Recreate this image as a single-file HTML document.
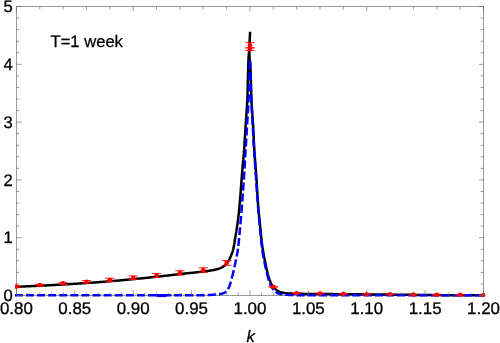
<!DOCTYPE html>
<html><head><meta charset="utf-8"><title>plot</title>
<style>
html,body{margin:0;padding:0;background:#fff;}
body{width:500px;height:343px;overflow:hidden;font-family:"Liberation Sans",sans-serif;}
svg{display:block;will-change:transform;}
text{font-family:"Liberation Sans",sans-serif;font-size:16.9px;fill:#000;stroke:#000;stroke-width:0.3px;stroke-linejoin:round;text-rendering:geometricPrecision;}
</style></head>
<body>
<svg width="500" height="343" viewBox="0 0 500 343">
<rect x="0" y="0" width="500" height="343" fill="#ffffff"/>
<defs><clipPath id="c"><rect x="15" y="5" width="470.1" height="292.2"/></clipPath></defs>
<g stroke="#666666" stroke-width="0.65" fill="none">
<rect x="16.40" y="6.50" width="467.10" height="289.00"/>
</g>
<g clip-path="url(#c)" fill="none" stroke-linejoin="round">
<path d="M13.00 287.00L13.60 286.97L14.20 286.94L14.80 286.91L15.40 286.88L16.00 286.86L16.60 286.83L17.20 286.80L17.79 286.77L18.39 286.74L18.99 286.71L19.59 286.68L20.19 286.65L20.79 286.63L21.39 286.60L21.99 286.57L22.59 286.54L23.19 286.51L23.79 286.48L24.39 286.46L24.99 286.43L25.59 286.40L26.19 286.37L26.78 286.34L27.38 286.32L27.98 286.29L28.58 286.26L29.18 286.23L29.78 286.20L30.38 286.17L30.98 286.15L31.58 286.12L32.18 286.09L32.78 286.06L33.38 286.03L33.98 286.00L34.58 285.98L35.18 285.95L35.77 285.92L36.37 285.89L36.97 285.86L37.57 285.83L38.17 285.80L38.77 285.77L39.37 285.74L39.97 285.72L40.57 285.69L41.17 285.66L41.77 285.63L42.37 285.60L42.97 285.57L43.57 285.54L44.16 285.51L44.76 285.47L45.36 285.44L45.96 285.41L46.56 285.38L47.16 285.35L47.76 285.32L48.36 285.29L48.96 285.26L49.56 285.22L50.16 285.19L50.76 285.16L51.35 285.13L51.95 285.09L52.55 285.06L53.15 285.03L53.75 285.00L54.35 284.96L54.95 284.93L55.55 284.90L56.15 284.86L56.75 284.83L57.35 284.80L57.94 284.76L58.54 284.73L59.14 284.70L59.74 284.66L60.34 284.63L60.94 284.60L61.54 284.56L62.14 284.53L62.74 284.49L63.34 284.46L63.94 284.42L64.53 284.39L65.13 284.36L65.73 284.32L66.33 284.29L66.93 284.25L67.53 284.22L68.13 284.18L68.73 284.15L69.33 284.11L69.93 284.07L70.52 284.04L71.12 284.00L71.72 283.97L72.32 283.93L72.92 283.89L73.52 283.86L74.12 283.82L74.72 283.78L75.32 283.75L75.92 283.71L76.51 283.67L77.11 283.63L77.71 283.60L78.31 283.56L78.91 283.52L79.51 283.48L80.11 283.44L80.71 283.41L81.30 283.37L81.90 283.33L82.50 283.29L83.10 283.25L83.70 283.21L84.30 283.17L84.90 283.13L85.50 283.09L86.09 283.05L86.69 283.01L87.29 282.97L87.89 282.93L88.49 282.89L89.09 282.85L89.69 282.81L90.28 282.76L90.88 282.72L91.48 282.68L92.08 282.64L92.68 282.59L93.28 282.55L93.87 282.51L94.47 282.47L95.07 282.42L95.67 282.38L96.27 282.33L96.87 282.29L97.46 282.25L98.06 282.20L98.66 282.16L99.26 282.11L99.86 282.06L100.45 282.02L101.05 281.97L101.65 281.93L102.25 281.88L102.85 281.83L103.45 281.78L104.04 281.74L104.64 281.69L105.24 281.64L105.84 281.59L106.44 281.54L107.03 281.49L107.63 281.45L108.23 281.40L108.83 281.35L109.43 281.30L110.02 281.25L110.62 281.20L111.22 281.15L111.82 281.10L112.42 281.04L113.01 280.99L113.61 280.94L114.21 280.89L114.81 280.84L115.40 280.79L116.00 280.73L116.60 280.68L117.20 280.63L117.80 280.58L118.39 280.52L118.99 280.47L119.59 280.42L120.19 280.36L120.78 280.31L121.38 280.26L121.98 280.20L122.58 280.15L123.17 280.09L123.77 280.04L124.37 279.98L124.97 279.93L125.56 279.87L126.16 279.82L126.76 279.76L127.36 279.71L127.96 279.65L128.55 279.59L129.15 279.54L129.75 279.48L130.34 279.43L130.94 279.37L131.54 279.31L132.14 279.26L132.73 279.20L133.33 279.14L133.93 279.08L134.53 279.03L135.12 278.97L135.72 278.91L136.32 278.85L136.92 278.80L137.51 278.74L138.11 278.68L138.71 278.62L139.30 278.56L139.90 278.50L140.50 278.45L141.10 278.39L141.69 278.33L142.29 278.27L142.89 278.21L143.48 278.15L144.08 278.09L144.68 278.03L145.27 277.97L145.87 277.91L146.47 277.85L147.06 277.79L147.66 277.73L148.26 277.67L148.85 277.61L149.45 277.55L150.05 277.48L150.64 277.42L151.24 277.36L151.84 277.30L152.43 277.23L153.03 277.17L153.63 277.10L154.22 277.04L154.82 276.97L155.42 276.91L156.01 276.84L156.61 276.78L157.21 276.71L157.80 276.65L158.40 276.58L159.00 276.51L159.59 276.45L160.19 276.38L160.78 276.31L161.38 276.25L161.98 276.18L162.57 276.11L163.17 276.04L163.77 275.97L164.36 275.91L164.96 275.84L165.55 275.77L166.15 275.70L166.75 275.63L167.34 275.56L167.94 275.49L168.53 275.42L169.13 275.35L169.73 275.28L170.32 275.21L170.92 275.14L171.51 275.07L172.11 275.00L172.71 274.93L173.30 274.86L173.90 274.79L174.49 274.72L175.09 274.65L175.69 274.58L176.28 274.51L176.88 274.44L177.47 274.37L178.07 274.30L178.67 274.23L179.26 274.16L179.86 274.09L180.45 274.02L181.05 273.95L181.64 273.88L182.24 273.81L182.84 273.75L183.43 273.68L184.03 273.61L184.63 273.55L185.23 273.48L185.83 273.42L186.42 273.36L187.02 273.29L187.62 273.23L188.22 273.17L188.82 273.11L189.42 273.05L190.02 272.99L190.62 272.93L191.22 272.87L191.82 272.81L192.42 272.75L193.02 272.69L193.62 272.63L194.22 272.57L194.82 272.51L195.42 272.44L196.02 272.38L196.62 272.32L197.21 272.26L197.81 272.19L198.41 272.13L199.01 272.06L199.61 272.00L200.21 271.93L200.80 271.86L201.40 271.79L202.00 271.72L202.59 271.65L203.19 271.57L203.78 271.50L204.38 271.42L204.97 271.34L205.57 271.26L206.16 271.18L206.75 271.10L207.34 271.02L207.93 270.93L208.53 270.84L209.12 270.75L209.70 270.66L210.29 270.56L210.88 270.46L211.47 270.36L212.05 270.26L212.64 270.15L213.22 270.05L213.81 269.94L214.39 269.82L214.98 269.70L215.57 269.57L216.16 269.42L216.75 269.27L217.34 269.11L217.93 268.94L218.51 268.76L219.08 268.57L219.65 268.37L220.20 268.16L220.75 267.94L221.28 267.71L221.81 267.46L222.33 267.18L222.86 266.88L223.38 266.55L223.88 266.19L224.38 265.83L224.86 265.44L225.33 265.04L225.77 264.64L226.19 264.23L226.58 263.81L226.95 263.36L227.30 262.88L227.65 262.39L227.97 261.87L228.29 261.35L228.59 260.81L228.89 260.28L229.17 259.74L229.45 259.22L229.71 258.68L229.97 258.14L230.21 257.59L230.45 257.04L230.68 256.48L230.91 255.92L231.13 255.36L231.35 254.80L231.56 254.24L231.77 253.68L231.99 253.12L232.19 252.55L232.40 251.99L232.59 251.42L232.77 250.84L232.93 250.27L233.08 249.69L233.21 249.11L233.35 248.53L233.47 247.95L233.60 247.36L233.71 246.77L233.83 246.19L233.94 245.60L234.04 245.00L234.15 244.41L234.25 243.82L234.35 243.23L234.45 242.63L234.54 242.04L234.64 241.44L234.73 240.85L234.83 240.25L234.92 239.66L235.02 239.07L235.12 238.47L235.22 237.88L235.32 237.29L235.42 236.70L235.52 236.11L235.62 235.52L235.72 234.92L235.82 234.33L235.92 233.74L236.01 233.15L236.11 232.56L236.21 231.96L236.30 231.37L236.40 230.78L236.49 230.19L236.58 229.59L236.68 229.00L236.77 228.41L236.86 227.81L236.95 227.22L237.04 226.63L237.12 226.03L237.21 225.44L237.29 224.85L237.38 224.25L237.46 223.66L237.54 223.06L237.63 222.47L237.71 221.88L237.79 221.28L237.87 220.69L237.95 220.09L238.03 219.50L238.11 218.90L238.18 218.31L238.26 217.71L238.33 217.12L238.41 216.52L238.48 215.92L238.55 215.33L238.62 214.73L238.69 214.14L238.75 213.54L238.82 212.94L238.88 212.35L238.94 211.75L239.00 211.15L239.06 210.56L239.12 209.96L239.18 209.36L239.23 208.77L239.29 208.17L239.35 207.57L239.40 206.97L239.45 206.38L239.51 205.78L239.56 205.18L239.61 204.58L239.66 203.98L239.71 203.39L239.76 202.79L239.82 202.19L239.87 201.59L239.92 200.99L239.97 200.40L240.02 199.80L240.07 199.20L240.12 198.60L240.16 198.00L240.21 197.41L240.26 196.81L240.31 196.21L240.36 195.61L240.40 195.01L240.45 194.42L240.49 193.82L240.54 193.22L240.59 192.62L240.63 192.02L240.68 191.42L240.72 190.83L240.77 190.23L240.81 189.63L240.85 189.03L240.90 188.43L240.94 187.83L240.99 187.24L241.03 186.64L241.08 186.04L241.12 185.44L241.17 184.84L241.21 184.24L241.26 183.65L241.30 183.05L241.35 182.45L241.39 181.85L241.44 181.25L241.49 180.65L241.53 180.06L241.58 179.46L241.63 178.86L241.67 178.26L241.72 177.66L241.77 177.07L241.82 176.47L241.87 175.87L241.91 175.27L241.96 174.67L242.01 174.08L242.06 173.48L242.11 172.88L242.16 172.28L242.21 171.68L242.26 171.09L242.31 170.49L242.36 169.89L242.40 169.29L242.45 168.69L242.50 168.10L242.55 167.50L242.60 166.90L242.66 166.30L242.71 165.70L242.76 165.11L242.81 164.51L242.86 163.91L242.91 163.31L242.97 162.72L243.02 162.12L243.07 161.52L243.13 160.92L243.19 160.33L243.24 159.73L243.30 159.13L243.35 158.53L243.41 157.94L243.47 157.34L243.52 156.74L243.58 156.14L243.63 155.55L243.69 154.95L243.74 154.35L243.79 153.75L243.85 153.16L243.90 152.56L243.95 151.96L243.99 151.36L244.04 150.76L244.09 150.17L244.13 149.57L244.18 148.97L244.22 148.37L244.26 147.77L244.30 147.17L244.34 146.58L244.38 145.98L244.42 145.38L244.46 144.78L244.50 144.18L244.53 143.58L244.57 142.98L244.61 142.38L244.64 141.78L244.68 141.19L244.71 140.59L244.75 139.99L244.78 139.39L244.82 138.79L244.86 138.19L244.89 137.59L244.93 136.99L244.96 136.39L245.00 135.79L245.03 135.20L245.07 134.60L245.10 134.00L245.14 133.40L245.17 132.80L245.21 132.20L245.25 131.60L245.28 131.00L245.32 130.40L245.36 129.81L245.40 129.21L245.44 128.61L245.48 128.01L245.52 127.41L245.56 126.81L245.60 126.21L245.64 125.61L245.68 125.02L245.72 124.42L245.77 123.82L245.81 123.22L245.85 122.62L245.89 122.02L245.93 121.42L245.98 120.83L246.02 120.23L246.06 119.63L246.10 119.03L246.14 118.43L246.18 117.83L246.22 117.23L246.27 116.64L246.31 116.04L246.35 115.44L246.38 114.84L246.42 114.24L246.46 113.64L246.50 113.04L246.54 112.45L246.58 111.85L246.63 111.25L246.67 110.65L246.71 110.05L246.75 109.45L246.79 108.85L246.83 108.25L246.87 107.66L246.91 107.06L246.95 106.46L246.99 105.86L247.03 105.26L247.06 104.66L247.10 104.06L247.13 103.46L247.16 102.86L247.20 102.27L247.23 101.67L247.25 101.07L247.28 100.47L247.31 99.87L247.33 99.27L247.35 98.67L247.37 98.07L247.40 97.47L247.42 96.87L247.44 96.27L247.46 95.67L247.48 95.07L247.49 94.47L247.51 93.87L247.53 93.27L247.55 92.67L247.56 92.07L247.58 91.47L247.60 90.87L247.61 90.27L247.63 89.67L247.64 89.08L247.66 88.48L247.68 87.88L247.69 87.28L247.71 86.68L247.72 86.08L247.74 85.48L247.75 84.88L247.77 84.28L247.78 83.68L247.80 83.08L247.81 82.48L247.83 81.88L247.84 81.28L247.86 80.68L247.88 80.08L247.89 79.48L247.91 78.88L247.93 78.28L247.94 77.68L247.96 77.08L247.97 76.48L247.99 75.88L248.00 75.28L248.01 74.68L248.03 74.08L248.04 73.48L248.06 72.88L248.07 72.28L248.08 71.68L248.10 71.08L248.11 70.48L248.13 69.88L248.14 69.28L248.16 68.68L248.17 68.08L248.19 67.48L248.20 66.88L248.22 66.28L248.24 65.68L248.26 65.08L248.27 64.48L248.29 63.88L248.31 63.28L248.34 62.68L248.36 62.08L248.38 61.48L248.40 60.88L248.43 60.29L248.46 59.69L248.50 59.09L248.54 58.49L248.58 57.89L248.62 57.29L248.66 56.69L248.71 56.09L248.75 55.50L248.80 54.90L248.84 54.30L248.88 53.70L248.93 53.10L248.97 52.50L249.01 51.90L249.04 51.31L249.08 50.71L249.12 50.11L249.15 49.51L249.19 48.91L249.23 48.31L249.26 47.71L249.30 47.11L249.33 46.51L249.37 45.92L249.40 45.32L249.44 44.72L249.47 44.12L249.51 43.52L249.54 42.92L249.57 42.32L249.61 41.72L249.64 41.12L249.67 40.52L249.70 39.92L249.74 39.33L249.77 38.73L249.80 38.13L249.83 37.53L249.86 36.93L249.89 36.33L249.91 35.73L249.94 35.13L249.97 34.53L250.00 33.93L250.03 33.33L250.05 32.73L250.08 32.13L250.10 31.70L250.08 32.30L250.06 32.90L250.03 33.50L250.01 34.10L249.99 34.70L249.97 35.30L249.95 35.90L249.92 36.50L249.90 37.10L249.88 37.70L249.86 38.30L249.84 38.90L249.82 39.49L249.80 40.09L249.77 40.69L249.75 41.29L249.73 41.89L249.70 42.49L249.67 43.09L249.65 43.69L249.62 44.29L249.60 44.89L249.57 45.49L249.54 46.09L249.52 46.69L249.50 47.29L249.48 47.89L249.46 48.49L249.44 49.09L249.43 49.69L249.41 50.29L249.41 50.89L249.40 51.49L249.40 52.09L249.40 52.69L249.41 53.29L249.43 53.89L249.45 54.49L249.47 55.09L249.49 55.69L249.52 56.29L249.55 56.89L249.57 57.49L249.60 58.08L249.64 58.68L249.69 59.28L249.75 59.88L249.81 60.47L249.88 61.07L249.96 61.67L250.03 62.26L250.10 62.86L250.17 63.46L250.24 64.05L250.30 64.65L250.35 65.25L250.39 65.85L250.42 66.44L250.45 67.04L250.48 67.64L250.51 68.24L250.53 68.84L250.56 69.44L250.58 70.04L250.60 70.64L250.62 71.24L250.64 71.83L250.66 72.43L250.68 73.03L250.70 73.63L250.72 74.23L250.74 74.83L250.75 75.43L250.77 76.03L250.78 76.63L250.80 77.23L250.82 77.83L250.83 78.43L250.85 79.03L250.86 79.63L250.87 80.24L250.89 80.84L250.90 81.44L250.92 82.04L250.94 82.64L250.95 83.24L250.97 83.84L250.98 84.44L251.00 85.04L251.02 85.63L251.03 86.23L251.05 86.83L251.06 87.43L251.08 88.03L251.09 88.63L251.11 89.23L251.12 89.83L251.13 90.43L251.15 91.03L251.16 91.63L251.18 92.23L251.19 92.83L251.20 93.43L251.22 94.03L251.23 94.63L251.25 95.23L251.27 95.83L251.28 96.43L251.30 97.03L251.32 97.63L251.34 98.23L251.36 98.83L251.38 99.43L251.40 100.03L251.43 100.63L251.45 101.23L251.48 101.83L251.52 102.43L251.55 103.02L251.59 103.62L251.63 104.22L251.67 104.82L251.71 105.42L251.75 106.02L251.80 106.62L251.85 107.21L251.89 107.81L251.94 108.41L251.99 109.01L252.03 109.61L252.08 110.21L252.13 110.80L252.17 111.40L252.22 112.00L252.26 112.60L252.30 113.20L252.35 113.80L252.39 114.40L252.43 114.99L252.46 115.59L252.50 116.19L252.54 116.79L252.58 117.39L252.62 117.99L252.66 118.59L252.70 119.19L252.74 119.78L252.77 120.38L252.81 120.98L252.85 121.58L252.89 122.18L252.92 122.78L252.96 123.38L253.00 123.98L253.03 124.58L253.07 125.17L253.11 125.77L253.14 126.37L253.18 126.97L253.21 127.57L253.24 128.17L253.28 128.77L253.31 129.37L253.34 129.97L253.37 130.57L253.40 131.17L253.43 131.76L253.46 132.36L253.49 132.96L253.52 133.56L253.55 134.16L253.57 134.76L253.60 135.36L253.63 135.96L253.65 136.56L253.68 137.16L253.71 137.76L253.73 138.36L253.76 138.96L253.79 139.56L253.81 140.16L253.84 140.76L253.86 141.36L253.89 141.96L253.92 142.55L253.95 143.15L253.97 143.75L254.00 144.35L254.03 144.95L254.06 145.55L254.09 146.15L254.12 146.75L254.15 147.35L254.18 147.95L254.22 148.55L254.25 149.15L254.28 149.74L254.32 150.34L254.36 150.94L254.40 151.54L254.44 152.14L254.48 152.74L254.52 153.34L254.56 153.93L254.61 154.53L254.65 155.13L254.70 155.73L254.74 156.33L254.79 156.93L254.84 157.52L254.89 158.12L254.93 158.72L254.98 159.32L255.03 159.92L255.08 160.51L255.13 161.11L255.18 161.71L255.22 162.31L255.27 162.91L255.32 163.51L255.36 164.10L255.41 164.70L255.45 165.30L255.50 165.90L255.54 166.50L255.59 167.10L255.64 167.69L255.68 168.29L255.73 168.89L255.78 169.49L255.82 170.09L255.87 170.68L255.91 171.28L255.96 171.88L256.01 172.48L256.05 173.08L256.10 173.68L256.14 174.27L256.19 174.87L256.23 175.47L256.28 176.07L256.32 176.67L256.36 177.27L256.41 177.86L256.45 178.46L256.49 179.06L256.53 179.66L256.57 180.26L256.61 180.86L256.65 181.46L256.69 182.05L256.73 182.65L256.77 183.25L256.80 183.85L256.84 184.45L256.88 185.05L256.91 185.65L256.95 186.25L256.98 186.85L257.02 187.44L257.06 188.04L257.09 188.64L257.13 189.24L257.16 189.84L257.20 190.44L257.23 191.04L257.27 191.64L257.31 192.24L257.34 192.84L257.38 193.43L257.41 194.03L257.45 194.63L257.49 195.23L257.53 195.83L257.56 196.43L257.60 197.03L257.64 197.63L257.68 198.22L257.72 198.82L257.76 199.42L257.80 200.02L257.84 200.62L257.88 201.22L257.93 201.82L257.97 202.41L258.01 203.01L258.05 203.61L258.10 204.21L258.14 204.81L258.18 205.41L258.23 206.01L258.27 206.60L258.32 207.20L258.36 207.80L258.41 208.40L258.46 209.00L258.51 209.60L258.55 210.19L258.60 210.79L258.65 211.39L258.70 211.99L258.76 212.58L258.81 213.18L258.86 213.78L258.92 214.38L258.97 214.97L259.03 215.57L259.09 216.17L259.15 216.77L259.21 217.36L259.28 217.96L259.34 218.56L259.40 219.15L259.47 219.75L259.53 220.35L259.60 220.94L259.66 221.54L259.72 222.14L259.79 222.73L259.85 223.33L259.91 223.93L259.97 224.52L260.03 225.12L260.09 225.72L260.15 226.31L260.21 226.91L260.26 227.51L260.32 228.11L260.38 228.70L260.43 229.30L260.49 229.90L260.54 230.50L260.60 231.09L260.66 231.69L260.71 232.29L260.77 232.89L260.83 233.48L260.89 234.08L260.95 234.68L261.01 235.27L261.07 235.87L261.13 236.47L261.20 237.06L261.26 237.66L261.33 238.26L261.40 238.85L261.47 239.45L261.54 240.04L261.61 240.64L261.68 241.23L261.76 241.83L261.83 242.43L261.91 243.02L261.99 243.62L262.06 244.21L262.14 244.81L262.23 245.40L262.31 246.00L262.39 246.59L262.48 247.18L262.56 247.78L262.65 248.37L262.74 248.96L262.83 249.56L262.92 250.15L263.02 250.74L263.12 251.33L263.22 251.92L263.32 252.51L263.42 253.11L263.53 253.70L263.64 254.29L263.75 254.88L263.86 255.47L263.97 256.06L264.09 256.64L264.20 257.23L264.32 257.82L264.44 258.41L264.56 259.00L264.67 259.59L264.79 260.18L264.91 260.76L265.03 261.35L265.15 261.94L265.27 262.53L265.38 263.12L265.50 263.71L265.62 264.30L265.74 264.88L265.86 265.47L265.98 266.06L266.10 266.65L266.23 267.24L266.35 267.82L266.48 268.41L266.61 269.00L266.74 269.58L266.88 270.17L267.02 270.75L267.16 271.33L267.30 271.91L267.45 272.49L267.60 273.07L267.75 273.66L267.90 274.24L268.06 274.83L268.22 275.41L268.38 275.99L268.54 276.57L268.72 277.15L268.89 277.73L269.07 278.30L269.26 278.87L269.45 279.44L269.66 280.00L269.86 280.56L270.08 281.11L270.31 281.65L270.55 282.20L270.81 282.74L271.08 283.29L271.37 283.82L271.67 284.35L271.98 284.87L272.31 285.38L272.64 285.88L272.99 286.35L273.35 286.82L273.73 287.28L274.13 287.73L274.55 288.18L274.98 288.61L275.43 289.03L275.89 289.42L276.36 289.79L276.84 290.13L277.33 290.45L277.84 290.77L278.37 291.08L278.90 291.38L279.45 291.65L280.01 291.89L280.57 292.11L281.13 292.28L281.70 292.43L282.28 292.57L282.86 292.70L283.45 292.82L284.05 292.93L284.65 293.03L285.25 293.12L285.85 293.19L286.45 293.25L287.04 293.30L287.64 293.35L288.24 293.39L288.83 293.42L289.43 293.46L290.03 293.49L290.63 293.53L291.23 293.56L291.83 293.59L292.43 293.61L293.03 293.64L293.63 293.66L294.23 293.68L294.83 293.70L295.43 293.72L296.03 293.74L296.63 293.75L297.23 293.77L297.83 293.78L298.43 293.79L299.03 293.80L299.63 293.81L300.23 293.82L300.83 293.83L301.43 293.84L302.03 293.85L302.63 293.86L303.23 293.87L303.83 293.88L304.43 293.89L305.03 293.89L305.63 293.90L306.23 293.91L306.83 293.92L307.43 293.92L308.03 293.93L308.63 293.94L309.23 293.94L309.83 293.95L310.43 293.96L311.03 293.96L311.63 293.97L312.23 293.97L312.83 293.98L313.43 293.99L314.03 293.99L314.63 294.00L315.23 294.00L315.83 294.01L316.43 294.01L317.03 294.02L317.63 294.02L318.23 294.03L318.83 294.03L319.43 294.04L320.03 294.04L320.63 294.04L321.23 294.05L321.83 294.05L322.43 294.06L323.03 294.06L323.63 294.06L324.23 294.07L324.83 294.07L325.43 294.08L326.03 294.08L326.63 294.08L327.23 294.09L327.83 294.09L328.43 294.10L329.03 294.10L329.63 294.10L330.23 294.11L330.83 294.11L331.43 294.11L332.03 294.12L332.63 294.12L333.23 294.13L333.83 294.13L334.43 294.13L335.03 294.14L335.63 294.14L336.23 294.15L336.83 294.15L337.43 294.16L338.03 294.16L338.63 294.16L339.23 294.17L339.83 294.17L340.43 294.18L341.03 294.18L341.63 294.19L342.23 294.19L342.83 294.20L343.43 294.20L344.03 294.21L344.63 294.21L345.23 294.22L345.83 294.22L346.43 294.23L347.03 294.23L347.63 294.24L348.23 294.25L348.83 294.25L349.43 294.26L350.03 294.26L350.63 294.27L351.23 294.27L351.83 294.28L352.43 294.28L353.03 294.29L353.63 294.29L354.23 294.30L354.83 294.30L355.43 294.31L356.03 294.31L356.63 294.32L357.23 294.32L357.83 294.33L358.43 294.33L359.03 294.33L359.63 294.34L360.23 294.34L360.83 294.35L361.43 294.35L362.03 294.36L362.63 294.36L363.23 294.37L363.83 294.37L364.43 294.38L365.03 294.38L365.63 294.39L366.23 294.39L366.83 294.40L367.43 294.40L368.03 294.41L368.63 294.41L369.23 294.42L369.83 294.42L370.43 294.43L371.03 294.43L371.63 294.44L372.23 294.44L372.83 294.45L373.43 294.45L374.03 294.46L374.63 294.46L375.23 294.47L375.83 294.47L376.43 294.48L377.03 294.48L377.63 294.49L378.23 294.49L378.83 294.50L379.43 294.50L380.03 294.51L380.63 294.51L381.23 294.52L381.83 294.53L382.43 294.53L383.03 294.54L383.63 294.54L384.23 294.55L384.83 294.55L385.43 294.56L386.03 294.56L386.63 294.57L387.23 294.57L387.83 294.58L388.43 294.59L389.03 294.59L389.63 294.60L390.23 294.60L390.83 294.61L391.43 294.61L392.03 294.62L392.63 294.63L393.23 294.63L393.83 294.64L394.43 294.64L395.03 294.65L395.63 294.66L396.23 294.66L396.83 294.67L397.43 294.68L398.03 294.68L398.63 294.69L399.23 294.70L399.83 294.70L400.43 294.71L401.03 294.72L401.63 294.72L402.23 294.73L402.83 294.74L403.43 294.75L404.03 294.75L404.63 294.76L405.23 294.77L405.83 294.77L406.43 294.78L407.03 294.79L407.63 294.80L408.23 294.80L408.83 294.81L409.43 294.82L410.03 294.82L410.63 294.83L411.23 294.84L411.83 294.85L412.43 294.85L413.03 294.86L413.63 294.87L414.23 294.87L414.83 294.88L415.43 294.89L416.03 294.90L416.63 294.90L417.23 294.91L417.83 294.92L418.43 294.92L419.03 294.93L419.63 294.94L420.23 294.94L420.83 294.95L421.43 294.96L422.03 294.96L422.63 294.97L423.23 294.98L423.83 294.98L424.43 294.99L425.03 295.00L425.63 295.00L426.23 295.01L426.83 295.01L427.43 295.02L428.03 295.03L428.63 295.03L429.23 295.04L429.83 295.04L430.43 295.05L431.03 295.05L431.63 295.06L432.23 295.06L432.83 295.07L433.43 295.07L434.03 295.08L434.63 295.08L435.23 295.09L435.83 295.09L436.43 295.10L437.03 295.10L437.63 295.10L438.23 295.11L438.83 295.11L439.43 295.12L440.03 295.12L440.63 295.12L441.23 295.13L441.83 295.13L442.43 295.14L443.03 295.14L443.63 295.14L444.23 295.15L444.83 295.15L445.43 295.16L446.03 295.16L446.63 295.16L447.23 295.17L447.83 295.17L448.43 295.18L449.03 295.18L449.63 295.18L450.23 295.19L450.83 295.19L451.43 295.19L452.03 295.20L452.63 295.20L453.23 295.21L453.83 295.21L454.43 295.21L455.03 295.22L455.63 295.22L456.23 295.22L456.83 295.23L457.43 295.23L458.03 295.23L458.63 295.24L459.23 295.24L459.83 295.24L460.43 295.25L461.03 295.25L461.63 295.25L462.23 295.26L462.83 295.26L463.43 295.26L464.03 295.27L464.63 295.27L465.23 295.27L465.83 295.27L466.43 295.28L467.03 295.28L467.63 295.28L468.23 295.29L468.83 295.29L469.43 295.29L470.03 295.29L470.63 295.30L471.23 295.30L471.83 295.30L472.43 295.30L473.03 295.31L473.63 295.31L474.23 295.31L474.83 295.31L475.43 295.32L476.03 295.32L476.63 295.32L477.23 295.32L477.83 295.32L478.43 295.33L479.03 295.33L479.63 295.33L480.23 295.33L480.83 295.33L481.43 295.34L482.03 295.34L482.63 295.34L483.23 295.34L483.83 295.34L484.43 295.34L485.03 295.35L485.63 295.35L486.23 295.35L486.83 295.35L487.00 295.35" stroke="#000000" stroke-width="2.5" stroke-linejoin="bevel"/>
<path d="M14.90 295.35L22.80 295.35M26.00 295.35L33.90 295.35M37.10 295.35L45.00 295.35M48.20 295.35L56.10 295.35M59.30 295.35L67.20 295.35M70.40 295.35L78.30 295.35M81.50 295.35L89.40 295.35M92.60 295.35L100.50 295.35M103.70 295.35L111.60 295.35M114.80 295.35L122.70 295.35M125.90 295.35L133.80 295.35M137.00 295.35L144.90 295.35M148.10 295.35L171.30 295.35M249.88 61.05L249.88 61.13L249.86 61.73L249.84 62.33L249.82 62.93L249.80 63.53L249.78 64.13L249.76 64.73L249.74 65.32L249.71 65.92L249.69 66.52L249.67 67.12L249.65 67.72L249.63 68.32L249.61 68.92L249.60 69.25M249.50 72.18L249.49 72.52L249.47 73.12L249.44 73.72L249.42 74.32L249.40 74.92L249.38 75.52L249.36 76.12L249.34 76.72L249.32 77.32L249.30 77.92L249.28 78.52L249.26 79.12L249.24 79.72L249.22 80.30M249.12 83.23L249.12 83.31L249.10 83.91L249.08 84.51L249.06 85.11L249.04 85.71L249.02 86.31L249.00 86.91L248.98 87.51L248.96 88.11L248.94 88.71L248.91 89.31L248.89 89.91L248.87 90.51L248.85 91.11L248.84 91.35M248.73 94.27L248.72 94.71L248.69 95.31L248.67 95.91L248.65 96.51L248.62 97.11L248.60 97.71L248.57 98.30L248.55 98.90L248.52 99.50L248.50 100.10L248.47 100.70L248.44 101.30L248.41 101.90L248.39 102.39M248.24 105.31L248.23 105.50L248.20 106.09L248.17 106.69L248.14 107.29L248.11 107.89L248.07 108.49L248.04 109.09L248.01 109.69L247.97 110.29L247.94 110.89L247.90 111.49L247.87 112.09L247.83 112.68L247.80 113.28L247.79 113.42M247.62 116.34L247.58 116.88L247.55 117.48L247.51 118.08L247.48 118.67L247.44 119.27L247.40 119.87L247.37 120.47L247.33 121.07L247.30 121.67L247.26 122.27L247.22 122.87L247.19 123.47L247.15 124.07L247.13 124.45M246.96 127.37L246.94 127.66L246.91 128.26L246.87 128.86L246.84 129.46L246.80 130.05L246.77 130.65L246.73 131.25L246.70 131.85L246.66 132.45L246.62 133.05L246.59 133.65L246.55 134.25L246.52 134.85L246.48 135.45L246.48 135.48M246.30 138.40L246.30 138.44L246.26 139.04L246.23 139.64L246.19 140.24L246.15 140.84L246.12 141.43L246.08 142.03L246.05 142.63L246.01 143.23L245.97 143.83L245.94 144.43L245.90 145.03L245.86 145.63L245.83 146.23L245.81 146.51M245.63 149.43L245.61 149.82L245.57 150.42L245.54 151.02L245.50 151.62L245.47 152.21L245.43 152.81L245.40 153.41L245.36 154.01L245.33 154.61L245.29 155.21L245.26 155.81L245.22 156.41L245.18 157.01L245.15 157.54M244.98 160.46L244.97 160.60L244.94 161.20L244.90 161.80L244.87 162.40L244.83 163.00L244.80 163.59L244.76 164.19L244.73 164.79L244.69 165.39L244.65 165.99L244.62 166.59L244.58 167.19L244.55 167.79L244.51 168.39L244.50 168.57M244.32 171.49L244.29 171.98L244.25 172.58L244.22 173.18L244.18 173.78L244.14 174.37L244.10 174.97L244.06 175.57L244.03 176.17L243.99 176.77L243.95 177.37L243.91 177.97L243.87 178.57L243.83 179.17L243.81 179.60M243.62 182.52L243.60 182.76L243.56 183.36L243.52 183.96L243.48 184.55L243.44 185.15L243.40 185.75L243.36 186.35L243.32 186.95L243.28 187.55L243.24 188.15L243.20 188.74L243.16 189.34L243.12 189.94L243.08 190.54L243.07 190.63M242.87 193.54L242.83 194.13L242.79 194.73L242.74 195.33L242.70 195.93L242.66 196.53L242.61 197.12L242.57 197.72L242.53 198.32L242.48 198.92L242.44 199.52L242.39 200.12L242.35 200.71L242.30 201.31L242.27 201.65M242.04 204.61L242.02 204.90L241.97 205.50L241.93 206.10L241.88 206.70L241.83 207.29L241.78 207.89L241.73 208.49L241.68 209.09L241.64 209.69L241.59 210.28L241.54 210.88L241.49 211.48L241.44 212.08L241.39 212.68L241.36 212.97M241.10 215.97L241.08 216.26L241.03 216.86L240.97 217.46L240.92 218.06L240.87 218.65L240.82 219.25L240.76 219.85L240.71 220.45L240.66 221.04L240.60 221.64L240.55 222.24L240.50 222.84L240.44 223.43L240.39 224.03L240.36 224.32M240.10 227.25L240.07 227.62L240.01 228.22L239.96 228.81L239.91 229.41L239.86 230.01L239.80 230.61L239.75 231.21L239.70 231.81L239.65 232.40L239.59 233.00L239.54 233.60L239.49 234.20L239.44 234.80L239.40 235.16M239.14 238.01L239.11 238.39L239.05 238.98L238.99 239.58L238.93 240.18L238.87 240.78L238.81 241.37L238.75 241.97L238.69 242.57L238.62 243.16L238.56 243.76L238.49 244.36L238.43 244.95L238.36 245.55L238.32 245.91M237.97 248.74L237.92 249.11L237.84 249.71L237.76 250.30L237.67 250.89L237.58 251.48L237.48 252.08L237.38 252.67L237.28 253.26L237.17 253.85L237.06 254.44L236.95 255.03L236.83 255.62L236.71 256.21L236.64 256.57M236.07 259.37L235.99 259.74L235.87 260.33L235.76 260.91L235.64 261.50L235.52 262.09L235.40 262.68L235.27 263.26L235.15 263.85L235.03 264.44L234.90 265.03L234.77 265.61L234.65 266.20L234.52 266.78L234.44 267.15M233.77 270.09L233.72 270.30L233.59 270.88L233.45 271.46L233.32 272.05L233.18 272.63L233.04 273.22L232.90 273.80L232.76 274.39L232.62 274.97L232.47 275.55L232.32 276.13L232.17 276.71L232.02 277.29L231.87 277.87L231.71 278.45L231.65 278.66M230.85 281.58L230.74 281.96L230.58 282.55L230.41 283.14L230.24 283.73L230.06 284.31L229.87 284.89L229.68 285.45L229.47 286.01L229.26 286.56L229.03 287.10L228.79 287.62L228.53 288.13L228.24 288.65L228.01 289.03M226.25 291.29L225.94 291.59L225.49 291.96L225.04 292.28L224.56 292.55L224.05 292.80L223.50 293.04L222.93 293.27L222.35 293.47L221.75 293.66L221.14 293.82L220.54 293.96L219.95 294.07L219.37 294.17L219.01 294.22M216.09 294.54L215.79 294.57L215.18 294.62L214.58 294.66L213.98 294.70L213.39 294.74L212.79 294.78L212.19 294.82L211.59 294.86L210.99 294.90L210.39 294.94L209.79 294.98L209.20 295.02L208.60 295.05L208.00 295.09L207.71 295.10M204.69 295.25L204.40 295.26L203.80 295.28L203.20 295.30L202.60 295.32L202.00 295.33L201.40 295.34L200.80 295.35L200.20 295.35L199.60 295.35L199.00 295.35L198.40 295.35L197.80 295.35L197.20 295.35L196.60 295.35L196.31 295.35M193.30 295.35L193.00 295.35L192.41 295.35L191.81 295.35L191.21 295.35L190.61 295.35L190.01 295.35L189.41 295.35L188.81 295.35L188.21 295.35L187.61 295.35L187.01 295.35L186.41 295.35L185.81 295.35L185.21 295.35L184.92 295.35M181.98 295.35L181.61 295.35L181.01 295.35L180.41 295.35L179.81 295.35L179.21 295.35L178.61 295.35L178.01 295.35L177.41 295.35L176.81 295.35L176.22 295.35L175.62 295.35L175.02 295.35L174.42 295.35L174.05 295.35M250.07 61.32L250.07 61.40L250.09 62.00L250.11 62.60L250.13 63.20L250.15 63.80L250.17 64.40L250.19 65.00L250.20 65.60L250.22 66.20L250.24 66.80L250.26 67.40L250.28 68.00L250.30 68.60L250.32 69.20L250.33 69.52M250.42 72.46L250.43 72.79L250.45 73.39L250.47 73.99L250.49 74.59L250.51 75.19L250.52 75.79L250.54 76.39L250.56 76.99L250.58 77.59L250.60 78.19L250.62 78.79L250.63 79.39L250.65 79.99L250.67 80.59L250.67 80.62M250.76 83.56L250.76 83.59L250.77 84.19L250.79 84.79L250.81 85.39L250.83 85.99L250.84 86.59L250.86 87.19L250.88 87.79L250.90 88.39L250.92 88.99L250.93 89.59L250.95 90.19L250.97 90.79L250.99 91.39L251.00 91.72M251.10 94.65L251.11 94.98L251.13 95.58L251.15 96.18L251.18 96.78L251.20 97.38L251.22 97.98L251.24 98.58L251.27 99.18L251.29 99.78L251.32 100.38L251.34 100.98L251.37 101.58L251.39 102.18L251.42 102.78L251.42 102.81M251.57 105.74L251.57 105.77L251.60 106.37L251.63 106.97L251.67 107.57L251.70 108.17L251.73 108.77L251.77 109.37L251.80 109.97L251.84 110.56L251.87 111.16L251.91 111.76L251.94 112.36L251.98 112.96L252.02 113.56L252.04 113.89M252.21 116.82L252.23 117.15L252.27 117.75L252.31 118.35L252.34 118.95L252.38 119.55L252.42 120.15L252.45 120.75L252.49 121.35L252.52 121.95L252.56 122.54L252.59 123.14L252.63 123.74L252.66 124.34L252.70 124.94L252.70 124.97M252.86 127.90L252.86 127.94L252.90 128.53L252.93 129.13L252.96 129.73L252.99 130.33L253.03 130.93L253.06 131.53L253.09 132.13L253.12 132.73L253.16 133.33L253.19 133.93L253.22 134.53L253.25 135.13L253.29 135.72L253.30 136.06M253.46 138.99L253.48 139.32L253.52 139.92L253.55 140.52L253.58 141.12L253.62 141.72L253.65 142.31L253.68 142.91L253.72 143.51L253.75 144.11L253.79 144.71L253.82 145.31L253.86 145.91L253.89 146.51L253.93 147.11L253.93 147.14M254.10 150.07L254.11 150.10L254.14 150.70L254.18 151.30L254.22 151.90L254.26 152.50L254.29 153.09L254.33 153.69L254.37 154.29L254.41 154.89L254.45 155.49L254.49 156.09L254.53 156.69L254.57 157.29L254.61 157.88L254.63 158.21M254.84 161.14L254.86 161.48L254.90 162.07L254.94 162.67L254.98 163.27L255.03 163.87L255.07 164.47L255.11 165.07L255.15 165.67L255.19 166.26L255.23 166.86L255.28 167.46L255.32 168.06L255.36 168.66L255.40 169.26L255.40 169.29M255.61 172.22L255.61 172.25L255.65 172.85L255.69 173.45L255.73 174.05L255.78 174.64L255.82 175.24L255.86 175.84L255.90 176.44L255.94 177.04L255.98 177.64L256.02 178.24L256.06 178.83L256.10 179.43L256.14 180.03L256.16 180.36M256.35 183.29L256.37 183.62L256.41 184.22L256.45 184.82L256.49 185.42L256.53 186.02L256.56 186.62L256.60 187.22L256.64 187.82L256.68 188.41L256.72 189.01L256.76 189.61L256.80 190.21L256.84 190.81L256.88 191.41L256.89 191.44M257.09 194.37L257.09 194.40L257.13 195.00L257.17 195.60L257.22 196.20L257.26 196.79L257.30 197.39L257.35 197.99L257.39 198.59L257.44 199.19L257.48 199.79L257.53 200.38L257.58 200.98L257.62 201.58L257.67 202.18L257.70 202.51M257.94 205.48L257.96 205.77L258.01 206.36L258.06 206.96L258.11 207.56L258.16 208.16L258.21 208.76L258.27 209.35L258.32 209.95L258.37 210.55L258.42 211.15L258.47 211.75L258.53 212.34L258.58 212.94L258.63 213.54L258.66 213.83M258.93 216.83L258.96 217.12L259.02 217.72L259.07 218.32L259.13 218.92L259.18 219.51L259.24 220.11L259.29 220.71L259.35 221.31L259.41 221.90L259.46 222.50L259.52 223.10L259.58 223.69L259.63 224.29L259.69 224.89L259.72 225.18M260.00 228.14L260.03 228.47L260.08 229.07L260.14 229.67L260.19 230.27L260.25 230.87L260.30 231.46L260.36 232.06L260.41 232.66L260.47 233.26L260.52 233.86L260.58 234.45L260.64 235.05L260.69 235.65L260.75 236.25L260.75 236.27M261.04 239.20L261.05 239.23L261.11 239.83L261.17 240.43L261.23 241.03L261.29 241.62L261.36 242.22L261.42 242.82L261.49 243.41L261.56 244.01L261.62 244.60L261.69 245.20L261.76 245.79L261.84 246.39L261.91 246.98L261.95 247.31M262.33 250.22L262.38 250.55L262.46 251.14L262.55 251.73L262.65 252.33L262.74 252.92L262.84 253.51L262.95 254.10L263.05 254.69L263.16 255.28L263.27 255.87L263.38 256.46L263.49 257.05L263.60 257.64L263.72 258.23L263.72 258.27M264.29 261.15L264.30 261.18L264.41 261.77L264.53 262.35L264.65 262.94L264.76 263.53L264.88 264.12L265.00 264.71L265.12 265.30L265.24 265.88L265.37 266.47L265.49 267.06L265.62 267.65L265.75 268.23L265.88 268.82L265.95 269.14M266.65 272.12L266.70 272.32L266.85 272.90L266.99 273.49L267.14 274.07L267.28 274.65L267.43 275.24L267.58 275.82L267.74 276.40L267.90 276.99L268.06 277.57L268.22 278.14L268.39 278.72L268.56 279.30L268.74 279.87L268.93 280.44L268.99 280.63M269.99 283.39L270.16 283.81L270.40 284.37L270.65 284.92L270.90 285.47L271.17 286.02L271.44 286.56L271.73 287.08L272.03 287.60L272.33 288.10L272.65 288.59L273.00 289.10L273.35 289.61L273.62 289.96M275.47 291.93L275.86 292.21L276.33 292.49L276.84 292.76L277.38 293.02L277.94 293.26L278.52 293.48L279.11 293.69L279.70 293.86L280.30 294.02L280.89 294.15L281.47 294.24L282.06 294.33L282.50 294.39M285.31 294.69L285.65 294.72L286.25 294.76L286.85 294.79L287.45 294.82L288.05 294.85L288.65 294.88L289.25 294.91L289.84 294.94L290.44 294.96L291.04 294.99L291.64 295.01L292.24 295.04L292.84 295.06L293.44 295.08L293.52 295.08M296.47 295.16L297.04 295.17L297.64 295.18L298.24 295.19L298.84 295.19L299.44 295.20L300.04 295.20L300.64 295.20L301.24 295.20L301.84 295.20L302.44 295.21L303.04 295.21L303.64 295.21L304.24 295.21L304.69 295.21M307.64 295.22L307.84 295.22L308.44 295.22L309.04 295.22L309.64 295.22L310.24 295.22L310.84 295.22L311.44 295.22L312.04 295.22L312.64 295.23L313.24 295.23L313.84 295.23L314.44 295.23L315.04 295.23L315.64 295.23L315.86 295.23M318.81 295.24L319.24 295.24L319.84 295.24L320.44 295.24L321.04 295.24L321.64 295.24L322.24 295.24L322.84 295.24L323.44 295.25L324.04 295.25L324.64 295.25L325.24 295.25L325.84 295.25L326.44 295.25L327.03 295.25M329.98 295.26L330.04 295.26L330.64 295.26L331.24 295.26L331.84 295.26L332.44 295.26L333.04 295.26L333.64 295.26L334.24 295.26L334.84 295.26L335.44 295.26L336.03 295.27L336.63 295.27L337.23 295.27L337.83 295.27L338.20 295.27M341.15 295.27L341.43 295.27L342.03 295.27L342.63 295.27L343.23 295.28L343.83 295.28L344.43 295.28L345.03 295.28L345.63 295.28L346.23 295.28L346.83 295.28L347.43 295.28L348.03 295.28L348.63 295.28L349.23 295.28L349.37 295.28M352.32 295.29L352.83 295.29L353.43 295.29L354.03 295.29L354.63 295.29L355.23 295.29L355.83 295.29L356.43 295.29L357.03 295.29L357.63 295.29L358.23 295.29L358.83 295.29L359.43 295.30L360.03 295.30L360.53 295.30M363.49 295.30L363.63 295.30L364.23 295.30L364.83 295.30L365.43 295.30L366.03 295.30L366.63 295.30L367.23 295.30L367.83 295.30L368.43 295.30L369.03 295.31L369.63 295.31L370.23 295.31L370.83 295.31L371.43 295.31L371.70 295.31M374.66 295.31L375.03 295.31L375.63 295.31L376.23 295.31L376.83 295.31L377.43 295.31L378.03 295.31L378.63 295.31L379.23 295.31L379.83 295.32L380.43 295.32L381.03 295.32L381.63 295.32L382.23 295.32L382.83 295.32L382.87 295.32M385.83 295.32L386.43 295.32L387.03 295.32L387.63 295.32L388.23 295.32L388.83 295.32L389.43 295.32L390.03 295.32L390.63 295.32L391.23 295.32L391.83 295.32L392.43 295.32L393.03 295.33L393.63 295.33L394.04 295.33M397.00 295.33L397.23 295.33L397.83 295.33L398.43 295.33L399.03 295.33L399.63 295.33L400.23 295.33L400.83 295.33L401.43 295.33L402.03 295.33L402.63 295.33L403.23 295.33L403.83 295.33L404.43 295.33L405.03 295.33L405.21 295.33M408.17 295.33L408.63 295.33L409.23 295.33L409.83 295.33L410.43 295.34L411.03 295.34L411.63 295.34L412.23 295.34L412.83 295.34L413.43 295.34L414.03 295.34L414.63 295.34L415.23 295.34L415.83 295.34L416.38 295.34M419.34 295.34L419.43 295.34L420.03 295.34L420.63 295.34L421.23 295.34L421.83 295.34L422.43 295.34L423.03 295.34L423.63 295.34L424.23 295.34L424.83 295.34L425.43 295.34L426.03 295.34L426.63 295.34L427.23 295.34L427.55 295.34M430.50 295.34L430.83 295.34L431.43 295.34L432.03 295.34L432.63 295.34L433.23 295.34L433.83 295.34L434.43 295.34L435.03 295.34L435.63 295.34L436.23 295.34L436.83 295.34L437.43 295.34L438.03 295.34L438.63 295.35L438.66 295.35M441.60 295.35L441.63 295.35L442.23 295.35L442.83 295.35L443.43 295.35L444.03 295.35L444.63 295.35L445.23 295.35L445.83 295.35L446.43 295.35L447.03 295.35L447.63 295.35L448.23 295.35L448.83 295.35L449.43 295.35L449.77 295.35M452.70 295.35L453.03 295.35L453.63 295.35L454.23 295.35L454.83 295.35L455.43 295.35L456.03 295.35L456.63 295.35L457.23 295.35L457.83 295.35L458.43 295.35L459.03 295.35L459.63 295.35L460.23 295.35L460.84 295.35L460.87 295.35M463.81 295.35L463.84 295.35L464.44 295.35L465.04 295.35L465.64 295.35L466.24 295.35L466.84 295.35L467.44 295.35L468.04 295.35L468.64 295.35L469.24 295.35L469.84 295.35L470.44 295.35L471.04 295.35L471.64 295.35L471.97 295.35M474.91 295.35L475.24 295.35L475.84 295.35L476.44 295.35L477.04 295.35L477.64 295.35L478.24 295.35L478.84 295.35L479.44 295.35L480.04 295.35L480.64 295.35L481.24 295.35L481.84 295.35L482.44 295.35L483.04 295.35L483.11 295.35M486.06 295.35L486.64 295.35L487.00 295.35M249.90 62.50L249.97 60.40" stroke="#0000ff" stroke-width="2.5" />
<path d="M156.7 295.75H166.4" stroke="#0000ff" stroke-width="3.0"/>
<g stroke="#ff0000" stroke-width="0.85" fill="none">
<path d="M16.40 286.00V287.20M11.70 286.00H21.10M11.70 287.20H21.10"/>
<circle cx="16.40" cy="286.60" r="2.3" fill="#ff0000" stroke="none"/>
<path d="M39.75 284.30V285.90M35.05 284.30H44.45M35.05 285.90H44.45"/>
<circle cx="39.75" cy="285.10" r="2.3" fill="#ff0000" stroke="none"/>
<path d="M63.11 282.40V284.40M58.41 282.40H67.81M58.41 284.40H67.81"/>
<circle cx="63.11" cy="283.40" r="2.3" fill="#ff0000" stroke="none"/>
<path d="M86.46 280.50V282.90M81.76 280.50H91.16M81.76 282.90H91.16"/>
<circle cx="86.46" cy="281.70" r="2.3" fill="#ff0000" stroke="none"/>
<path d="M109.82 278.30V281.50M105.12 278.30H114.52M105.12 281.50H114.52"/>
<circle cx="109.82" cy="279.90" r="2.3" fill="#ff0000" stroke="none"/>
<path d="M133.17 275.90V279.50M128.47 275.90H137.87M128.47 279.50H137.87"/>
<circle cx="133.17" cy="277.70" r="2.3" fill="#ff0000" stroke="none"/>
<path d="M156.53 273.50V277.30M151.83 273.50H161.23M151.83 277.30H161.23"/>
<circle cx="156.53" cy="275.40" r="2.3" fill="#ff0000" stroke="none"/>
<path d="M179.88 270.70V275.10M175.18 270.70H184.58M175.18 275.10H184.58"/>
<circle cx="179.88" cy="272.90" r="2.3" fill="#ff0000" stroke="none"/>
<path d="M203.24 267.80V272.20M198.54 267.80H207.94M198.54 272.20H207.94"/>
<circle cx="203.24" cy="270.00" r="2.3" fill="#ff0000" stroke="none"/>
<path d="M226.59 260.50V265.30M221.89 260.50H231.29M221.89 265.30H231.29"/>
<circle cx="226.59" cy="262.90" r="2.3" fill="#ff0000" stroke="none"/>
<path d="M249.95 42.60V47.80M245.25 42.60H254.65M245.25 47.80H254.65"/>
<circle cx="249.95" cy="45.20" r="2.3" fill="#ff0000" stroke="none"/>
<path d="M249.95 47.85V50.55M245.25 47.85H254.65M245.25 50.55H254.65"/>
<circle cx="249.95" cy="49.20" r="2.3" fill="#ff0000" stroke="none"/>
<path d="M273.30 286.30V287.10M268.60 286.30H278.00M268.60 287.10H278.00"/>
<circle cx="273.30" cy="286.70" r="2.3" fill="#ff0000" stroke="none"/>
<path d="M296.66 292.90V293.50M291.96 292.90H301.36M291.96 293.50H301.36"/>
<circle cx="296.66" cy="293.20" r="2.3" fill="#ff0000" stroke="none"/>
<path d="M320.01 293.20V293.80M315.31 293.20H324.71M315.31 293.80H324.71"/>
<circle cx="320.01" cy="293.50" r="2.3" fill="#ff0000" stroke="none"/>
<path d="M343.37 293.60V294.20M338.67 293.60H348.07M338.67 294.20H348.07"/>
<circle cx="343.37" cy="293.90" r="2.3" fill="#ff0000" stroke="none"/>
<path d="M366.73 293.90V294.50M362.03 293.90H371.43M362.03 294.50H371.43"/>
<circle cx="366.73" cy="294.20" r="2.3" fill="#ff0000" stroke="none"/>
<path d="M390.08 294.00V294.60M385.38 294.00H394.78M385.38 294.60H394.78"/>
<circle cx="390.08" cy="294.30" r="2.3" fill="#ff0000" stroke="none"/>
<path d="M413.43 294.30V294.90M408.73 294.30H418.13M408.73 294.90H418.13"/>
<circle cx="413.43" cy="294.60" r="2.3" fill="#ff0000" stroke="none"/>
<path d="M436.79 294.60V295.20M432.09 294.60H441.49M432.09 295.20H441.49"/>
<circle cx="436.79" cy="294.90" r="2.3" fill="#ff0000" stroke="none"/>
<path d="M460.14 294.60V295.20M455.44 294.60H464.84M455.44 295.20H464.84"/>
<circle cx="460.14" cy="294.90" r="2.3" fill="#ff0000" stroke="none"/>
<path d="M483.50 294.70V295.30M478.80 294.70H488.20M478.80 295.30H488.20"/>
<circle cx="483.50" cy="295.00" r="2.3" fill="#ff0000" stroke="none"/>
</g>
</g>
<g stroke="#666666" stroke-width="0.65" fill="none">
<path d="M16.40 295.50L16.40 290.20M28.08 295.50L28.08 292.50M39.76 295.50L39.76 292.50M51.43 295.50L51.43 292.50M63.11 295.50L63.11 292.50M74.79 295.50L74.79 290.20M86.47 295.50L86.47 292.50M98.14 295.50L98.14 292.50M109.82 295.50L109.82 292.50M121.50 295.50L121.50 292.50M133.17 295.50L133.17 290.20M144.85 295.50L144.85 292.50M156.53 295.50L156.53 292.50M168.21 295.50L168.21 292.50M179.89 295.50L179.89 292.50M191.56 295.50L191.56 290.20M203.24 295.50L203.24 292.50M214.92 295.50L214.92 292.50M226.59 295.50L226.59 292.50M238.27 295.50L238.27 292.50M249.95 295.50L249.95 290.20M261.63 295.50L261.63 292.50M273.30 295.50L273.30 292.50M284.98 295.50L284.98 292.50M296.66 295.50L296.66 292.50M308.34 295.50L308.34 290.20M320.01 295.50L320.01 292.50M331.69 295.50L331.69 292.50M343.37 295.50L343.37 292.50M355.05 295.50L355.05 292.50M366.73 295.50L366.73 290.20M378.40 295.50L378.40 292.50M390.08 295.50L390.08 292.50M401.76 295.50L401.76 292.50M413.44 295.50L413.44 292.50M425.11 295.50L425.11 290.20M436.79 295.50L436.79 292.50M448.47 295.50L448.47 292.50M460.15 295.50L460.15 292.50M471.82 295.50L471.82 292.50M483.50 295.50L483.50 290.20M16.40 6.50L16.40 11.20M39.76 6.50L39.76 9.50M63.11 6.50L63.11 9.50M86.47 6.50L86.47 9.50M109.82 6.50L109.82 9.50M133.17 6.50L133.17 11.20M156.53 6.50L156.53 9.50M179.89 6.50L179.89 9.50M203.24 6.50L203.24 9.50M226.59 6.50L226.59 9.50M249.95 6.50L249.95 11.20M273.30 6.50L273.30 9.50M296.66 6.50L296.66 9.50M320.01 6.50L320.01 9.50M343.37 6.50L343.37 9.50M366.73 6.50L366.73 11.20M390.08 6.50L390.08 9.50M413.44 6.50L413.44 9.50M436.79 6.50L436.79 9.50M460.15 6.50L460.15 9.50M483.50 6.50L483.50 11.20M16.40 295.50L21.70 295.50M483.50 295.50L478.80 295.50M16.40 283.94L19.40 283.94M483.50 283.94L480.50 283.94M16.40 272.38L19.40 272.38M483.50 272.38L480.50 272.38M16.40 260.82L19.40 260.82M483.50 260.82L480.50 260.82M16.40 249.26L19.40 249.26M483.50 249.26L480.50 249.26M16.40 237.70L21.70 237.70M483.50 237.70L478.80 237.70M16.40 226.14L19.40 226.14M483.50 226.14L480.50 226.14M16.40 214.58L19.40 214.58M483.50 214.58L480.50 214.58M16.40 203.02L19.40 203.02M483.50 203.02L480.50 203.02M16.40 191.46L19.40 191.46M483.50 191.46L480.50 191.46M16.40 179.90L21.70 179.90M483.50 179.90L478.80 179.90M16.40 168.34L19.40 168.34M483.50 168.34L480.50 168.34M16.40 156.78L19.40 156.78M483.50 156.78L480.50 156.78M16.40 145.22L19.40 145.22M483.50 145.22L480.50 145.22M16.40 133.66L19.40 133.66M483.50 133.66L480.50 133.66M16.40 122.10L21.70 122.10M483.50 122.10L478.80 122.10M16.40 110.54L19.40 110.54M483.50 110.54L480.50 110.54M16.40 98.98L19.40 98.98M483.50 98.98L480.50 98.98M16.40 87.42L19.40 87.42M483.50 87.42L480.50 87.42M16.40 75.86L19.40 75.86M483.50 75.86L480.50 75.86M16.40 64.30L21.70 64.30M483.50 64.30L478.80 64.30M16.40 52.74L19.40 52.74M483.50 52.74L480.50 52.74M16.40 41.18L19.40 41.18M483.50 41.18L480.50 41.18M16.40 29.62L19.40 29.62M483.50 29.62L480.50 29.62M16.40 18.06L19.40 18.06M483.50 18.06L480.50 18.06M16.40 6.50L21.70 6.50M483.50 6.50L478.80 6.50"/>
</g>
<text x="16.40" y="314.4" text-anchor="middle">0.80</text>
<text x="74.79" y="314.4" text-anchor="middle">0.85</text>
<text x="133.17" y="314.4" text-anchor="middle">0.90</text>
<text x="191.56" y="314.4" text-anchor="middle">0.95</text>
<text x="249.95" y="314.4" text-anchor="middle">1.00</text>
<text x="308.34" y="314.4" text-anchor="middle">1.05</text>
<text x="366.73" y="314.4" text-anchor="middle">1.10</text>
<text x="425.11" y="314.4" text-anchor="middle">1.15</text>
<text x="483.50" y="314.4" text-anchor="middle">1.20</text>
<text x="12.8" y="301.10" text-anchor="end" style="font-size:16.6px">0</text>
<text x="12.8" y="243.30" text-anchor="end" style="font-size:16.6px">1</text>
<text x="12.8" y="185.50" text-anchor="end" style="font-size:16.6px">2</text>
<text x="12.8" y="127.70" text-anchor="end" style="font-size:16.6px">3</text>
<text x="12.8" y="69.90" text-anchor="end" style="font-size:16.6px">4</text>
<text x="12.8" y="12.10" text-anchor="end" style="font-size:16.6px">5</text>
<text x="50.5" y="46.9" style="font-size:16.6px">T=1 week</text>
<text x="250.6" y="341.9" text-anchor="middle" style="font-style:italic;font-size:16.6px">k</text>
</svg>
</body></html>
